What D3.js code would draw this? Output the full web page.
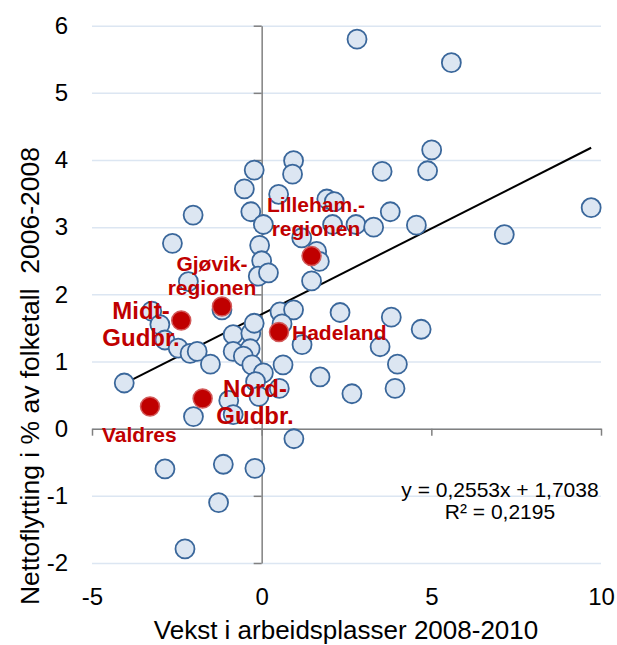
<!DOCTYPE html>
<html>
	<head>
		<script type="text/javascript" src="https://cdn.jsdelivr.net/npm/d3@7"></script>
		<style type="text/css">
			body {
				margin: 0;
				background: #fff;
			}
			svg {
				font-family: "Liberation Sans", Arial, sans-serif;
			}
			.grid line {
				stroke: #dce6f2;
				stroke-width: 1.5;
			}
			.grid path {
				display: none;
			}
			.axis path,
			.axis line {
				stroke: #808080;
				stroke-width: 1.5;
			}
			.labels path,
			.labels line {
				display: none;
			}
			.labels text {
				font-size: 24px;
				fill: #000;
			}
			.dot {
				fill: #dce6f2;
				stroke: #3a679b;
				stroke-width: 1.8;
			}
			.red {
				fill: #c00000;
				stroke: #d25a5a;
				stroke-width: 1.5;
			}
			.name {
				fill: #c00000;
				font-weight: bold;
			}
		</style>
	</head>
<body>
	<script type="text/javascript">
		// kommuner: vekst i arbeidsplasser (x) og nettoflytting (y)
		var xVals = [2.81, 5.59, 5.01, 4.89, 3.55, 0.94, 0.91, -0.22, -0.51, 0.50,
			1.92, 2.14, -2.02, -0.32, 9.71, 3.79, 2.78, 3.30, 4.56, 7.15,
			0.05, 2.09, -2.63, -0.06, 1.18, 1.62, 1.70, 0.00, -0.10, 0.20,
			1.47, -2.16, -1.17, -3.24, -3.00, -2.85, -2.46, -2.11, -1.90, -1.51,
			-0.84, -0.84, -0.32, -0.22, -0.34, -0.54, -0.29, 0.05, 0.63, 0.54,
			0.94, 0.60, 1.19, 2.31, 3.82, 4.70, 3.49, 4.00, 2.66, 3.93,
			1.72, -4.05, -0.97, -0.84, -0.18, -0.08, 0.52, -2.01, 0.95, -2.85,
			-1.13, -0.20, -1.27, -2.26];
		var yVals = [5.80, 5.45, 4.15, 3.84, 3.83, 3.99, 3.79, 3.85, 3.57, 3.49,
			3.42, 3.38, 3.18, 3.23, 3.29, 3.23, 3.04, 3.00, 3.03, 2.89,
			3.04, 3.04, 2.76, 2.73, 2.84, 2.64, 2.49, 2.50, 2.27, 2.32,
			2.20, 2.19, 1.77, 1.75, 1.55, 1.32, 1.20, 1.12, 1.15, 0.96,
			1.40, 1.15, 1.42, 1.57, 1.19, 1.08, 0.95, 0.83, 0.95, 1.74,
			1.77, 1.56, 1.25, 1.73, 1.66, 1.48, 1.22, 0.96, 0.52, 0.60,
			0.77, 0.68, 0.42, 0.21, 0.70, 0.48, 0.60, 0.18, -0.15, -0.60,
			-0.53, -0.59, -1.10, -1.79];

		// regionene som er merket
		var regions = [["Lilleham.-", "regionen"], ["Gjøvik-", "regionen"], ["Midt-", "Gudbr."],
			["Hadeland"], ["Nord-", "Gudbr."], ["Valdres"]];
		var regionX = [1.47, -1.17, -2.37, 0.51, -1.74, -3.29];
		var regionY = [2.57, 1.82, 1.61, 1.44, 0.45, 0.33];

		var xTicks = [-5, 0, 5, 10];
		var yTicks = [-2, -1, 0, 1, 2, 3, 4, 5, 6];
		var slope = 0.2553, intercept = 1.7038;
		var eqText = ["y = 0,2553x + 1,7038", "R² = 0,2195"];

		var w = 617, h = 645;
		var pLeft = 92, pRight = 601, pTop = 25.7, pBottom = 563;

		var x = d3.scaleLinear().domain([-5, 10]).range([pLeft, pRight]);
		var y = d3.scaleLinear().domain([-2, 6]).range([pBottom, pTop]);
		var plain = function (d) { return String(d); };

		var svg = d3.select("body").append("svg")
			.attr("width", w)
			.attr("height", h);

		// horisontale rutenett
		svg.append("g")
			.attr("class", "grid")
			.attr("transform", "translate(" + pLeft + ",0)")
			.call(d3.axisLeft(y).tickValues(yTicks).tickSize(-(pRight - pLeft)).tickFormat(""));

		// akser gjennom origo
		svg.append("g")
			.attr("class", "axis")
			.attr("transform", "translate(0," + y(0) + ")")
			.call(d3.axisBottom(x).tickValues(xTicks).tickSize(7).tickSizeOuter(0).tickFormat(""));

		svg.append("g")
			.attr("class", "axis")
			.attr("transform", "translate(" + x(0) + ",0)")
			.call(d3.axisLeft(y).tickValues(yTicks).tickSize(8).tickSizeOuter(0).tickFormat(""));

		// tall langs kantene
		svg.append("g")
			.attr("class", "labels")
			.attr("transform", "translate(0," + 588 + ")")
			.call(d3.axisBottom(x).tickValues(xTicks).tickSize(0).tickPadding(0).tickFormat(plain));

		svg.append("g")
			.attr("class", "labels")
			.attr("transform", "translate(" + 68 + ",0)")
			.call(d3.axisLeft(y).tickValues(yTicks).tickSize(0).tickPadding(0).tickFormat(plain));

		svg.selectAll(".labels").attr("font-family", null).attr("font-size", null);

		// trendlinje
		var xMin = d3.min(xVals), xMax = d3.max(xVals);
		svg.append("line")
			.attr("x1", x(xMin))
			.attr("y1", y(slope * xMin + intercept))
			.attr("x2", x(xMax))
			.attr("y2", y(slope * xMax + intercept))
			.attr("stroke", "#000")
			.attr("stroke-width", 2);

		svg.selectAll("circle.dot")
			.data(xVals)
			.enter().append("circle")
			.attr("class", "dot")
			.attr("cx", function (d) { return x(d); })
			.attr("cy", function (d, i) { return y(yVals[i]); })
			.attr("r", 9.5);

		svg.selectAll("circle.red")
			.data(regionX)
			.enter().append("circle")
			.attr("class", "red")
			.attr("cx", function (d) { return x(d); })
			.attr("cy", function (d, i) { return y(regionY[i]); })
			.attr("r", 9.5);

		// navn på regionene
		var namePos = [
			{x: 316, y: 212, size: 21, anchor: "middle"},
			{x: 212, y: 271, size: 21, anchor: "middle"},
			{x: 141, y: 319, size: 24, anchor: "middle"},
			{x: 292, y: 340, size: 21, anchor: "start"},
			{x: 255, y: 397, size: 24, anchor: "middle"},
			{x: 102, y: 442, size: 21, anchor: "start"}
		];

		regions.forEach(function (lines, i) {
			var p = namePos[i];
			var t = svg.append("text")
				.attr("class", "name")
				.attr("text-anchor", p.anchor)
				.attr("font-size", p.size);
			lines.forEach(function (s, j) {
				t.append("tspan")
					.attr("x", p.x)
					.attr("y", p.y + j * (p.size + 3))
					.text(s);
			});
		});

		// likning
		svg.selectAll("text.eq")
			.data(eqText)
			.enter().append("text")
			.attr("class", "eq")
			.attr("x", 500)
			.attr("y", function (d, i) { return 497 + i * 22; })
			.attr("text-anchor", "middle")
			.attr("font-size", 21)
			.text(function (d) { return d; });

		// aksetitler
		svg.append("text")
			.attr("x", 346)
			.attr("y", 639)
			.attr("text-anchor", "middle")
			.attr("font-size", 26)
			.text("Vekst i arbeidsplasser 2008-2010");

		svg.append("text")
			.attr("transform", "translate(39,376) rotate(-90)")
			.attr("text-anchor", "middle")
			.attr("font-size", 26.5)
			.style("white-space", "pre")
			.text("Nettoflytting i % av folketall  2006-2008");
	</script>
</body>
</html>
